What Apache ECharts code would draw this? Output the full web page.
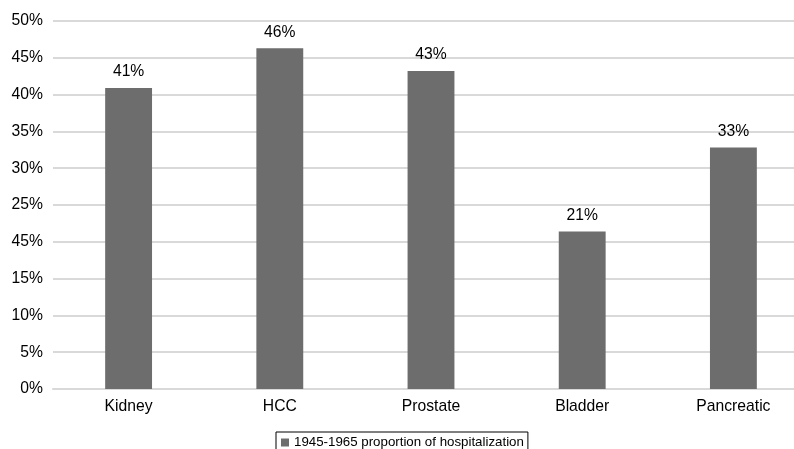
<!DOCTYPE html>
<html><head><meta charset="utf-8">
<script src="https://cdn.jsdelivr.net/npm/echarts@6/dist/echarts.min.js"></script>
<style>html,body{margin:0;padding:0;background:#fff;overflow:hidden}#c{width:809px;height:449px}</style>
</head><body><div id="c"></div>
<script>
const categories = ['Kidney', 'HCC', 'Prostate', 'Bladder', 'Pancreatic'];
const values = [40.9, 46.3, 43.2, 21.4, 32.8];
const valueLabels = ['41%', '46%', '43%', '21%', '33%'];
const tickLabels = ['0%', '5%', '10%', '15%', '45%', '25%', '30%', '35%', '40%', '45%', '50%'];
const seriesName = '1945-1965 proportion of hospitalization';

const chart = echarts.init(document.getElementById('c'), null, {renderer: 'canvas'});
chart.setOption({
  animation: false,
  grid: {left: 53, right: 0, top: 21, height: 368},
  legend: {
    data: [seriesName], top: 432, left: 276,
    icon: 'rect', itemWidth: 8, itemHeight: 8, itemGap: 5,
    borderColor: '#000', borderWidth: 1, padding: [4, 4, 8, 5],
    textStyle: {fontFamily: 'Liberation Sans', fontSize: 13.3, color: '#000'}
  },
  xAxis: {
    type: 'category', data: categories,
    axisLine: {show: true, lineStyle: {color: '#d9d9d9', width: 2}},
    axisTick: {show: false},
    axisLabel: {fontFamily: 'Liberation Sans', fontSize: 15.7, color: '#000', margin: 10}
  },
  yAxis: {
    type: 'value', min: 0, max: 50, interval: 5,
    axisLine: {show: false}, axisTick: {show: false},
    splitLine: {lineStyle: {color: '#d9d9d9', width: 2}},
    axisLabel: {
      fontFamily: 'Liberation Sans', fontSize: 15.7, color: '#000', margin: 10,
      formatter: (v) => tickLabels[Math.round(v / 5)]
    }
  },
  series: [{
    name: seriesName, type: 'bar', data: values, barWidth: '31%',
    itemStyle: {color: '#6d6d6d'},
    label: {
      show: true, position: 'top', distance: 8,
      fontFamily: 'Liberation Sans', fontSize: 15.7, color: '#000',
      formatter: (p) => valueLabels[p.dataIndex]
    }
  }]
});
</script></body></html>
